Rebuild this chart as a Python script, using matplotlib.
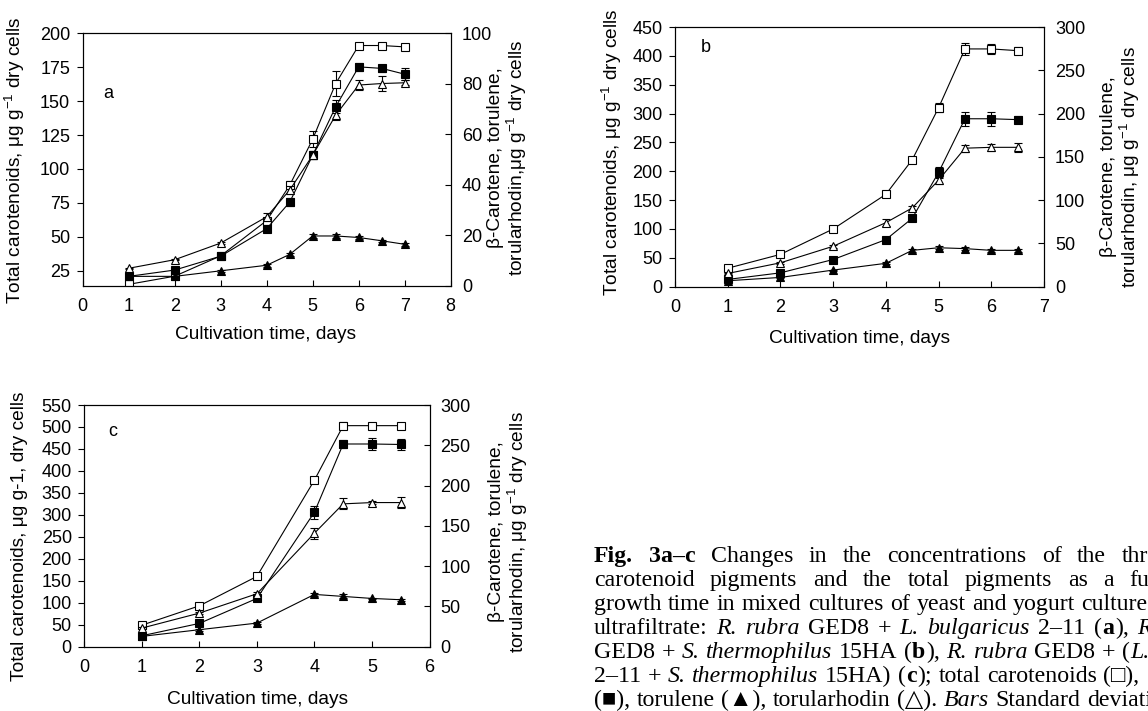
import matplotlib
matplotlib.use("Agg")
import matplotlib.pyplot as plt

plt.rcParams['font.family'] = ['Liberation Sans', 'DejaVu Sans']
plt.rcParams['mathtext.fontset'] = 'custom'
plt.rcParams['mathtext.rm'] = 'Liberation Sans'
plt.rcParams['mathtext.it'] = 'Liberation Sans:italic'
plt.rcParams['font.size'] = 13

W, H = 1148, 711
LAB = 13.8   # axis label size
TCK = 13     # tick label size

# ---- data (total carotenoids on left axis, pigments on right axis) ----
days_a = [1, 2, 3, 4, 4.5, 5, 5.5, 6, 6.5, 7]
total_a = [15, 21, 36, 62, 88, 122, 163, 191, 191, 190]
total_a_err = [0, 0, 0, 1, 3, 6, 9, 1, 1, 1]
beta_a = [3.7, 6.2, 11.7, 22.6, 33.1, 51.7, 70.9, 86.7, 86.1, 83.8]
beta_a_err = [0.5, 0.5, 0.5, 0.8, 1.5, 1.5, 2.5, 1.5, 1.5, 2.5]
torulene_a = [3.7, 3.7, 5.9, 8.1, 12.4, 19.7, 19.7, 19.1, 17.8, 16.4]
torulene_a_err = [0.3, 0.3, 0.3, 0.5, 0.5, 0.8, 0.8, 0.5, 0.5, 0.5]
torularhodin_a = [6.9, 10.3, 16.9, 27.3, 37.9, 51.7, 67.6, 79.5, 80.1, 80.4]
torularhodin_a_err = [0.3, 0.3, 0.5, 1.5, 1.5, 1.5, 2, 2, 3, 1]

days_b = [1, 2, 3, 4, 4.5, 5, 5.5, 6, 6.5]
total_b = [32, 56, 100, 160, 220, 310, 412, 412, 409]
total_b_err = [2, 2, 2, 2, 4, 8, 10, 8, 6]
beta_b = [8.4, 16, 31.4, 54.4, 79, 132, 194, 194, 193]
beta_b_err = [1, 1, 1, 1.5, 3, 6, 8, 8, 4]
torulene_b = [6.9, 10.7, 19.2, 27, 42, 45, 44, 42, 42]
torulene_b_err = [0.5, 0.5, 0.5, 1, 1.5, 2, 1.5, 1.5, 1.5]
torularhodin_b = [15.3, 27.6, 46.7, 74, 91, 123, 160, 161, 161]
torularhodin_b_err = [1, 1, 1.5, 4, 2, 4, 4, 4, 5]

days_c = [1, 2, 3, 4, 4.5, 5, 5.5]
total_c = [49, 93, 160, 379, 503, 503, 503]
total_c_err = [2, 2, 3, 5, 8, 4, 4]
beta_c = [13.6, 28.9, 59.9, 167, 251.6, 251.6, 251]
beta_c_err = [1, 1, 2, 8, 5, 7, 7]
torulene_c = [12.8, 21.1, 29.3, 64.9, 62.4, 59.9, 58.3]
torulene_c_err = [0.5, 1, 1.5, 1.5, 2.5, 1, 1]
torularhodin_c = [23.1, 41.7, 65.7, 140.9, 177.3, 178.9, 178.9]
torularhodin_c_err = [1, 1, 2, 7, 7, 1.5, 7]


def px_axes(left, top, right, bottom):
    return fig.add_axes([left / W, 1 - bottom / H, (right - left) / W, (bottom - top) / H])


def fig_text(x, y, s, **kw):
    return fig.text(x / W, 1 - y / H, s, **kw)


def series(ax, x, y, err, marker, filled):
    ax.errorbar(x, y, yerr=err, fmt='-' + marker, color='k', lw=0.8,
                mfc='k' if filled else 'white', mec='k', ms=5.5, mew=0.8,
                elinewidth=0.8, capsize=3, capthick=0.8)


def panel(box, days, total, total_err, beta, beta_err, tor, tor_err, torh, torh_err,
          xmax, ylim, yticks, rlim, rticks, letter, letter_xy):
    ax = px_axes(*box)
    ax2 = ax.twinx()
    series(ax, days, total, total_err, 's', False)
    series(ax2, days, beta, beta_err, 's', True)
    series(ax2, days, tor, tor_err, '^', True)
    series(ax2, days, torh, torh_err, '^', False)
    ax.set_xlim(0, xmax)
    ax.set_xticks(range(0, xmax + 1))
    ax.set_ylim(*ylim)
    ax.set_yticks(yticks)
    ax2.set_ylim(*rlim)
    ax2.set_yticks(rticks)
    ax.tick_params(axis='x', direction='in', length=4, pad=9, labelsize=TCK)
    ax.tick_params(axis='y', direction='out', length=4, pad=5, labelsize=TCK)
    ax2.tick_params(axis='y', direction='in', length=4, pad=8, labelsize=TCK)
    for a in (ax, ax2):
        for sp in a.spines.values():
            sp.set_linewidth(0.8)
    ax.text(letter_xy[0], letter_xy[1], letter, transform=ax.transAxes, fontsize=TCK,
            ha='left', va='center')
    return ax, ax2


fig = plt.figure(figsize=(W / 100, H / 100), dpi=100)

# panel a
panel((82.7, 33.3, 450.7, 285.7), days_a, total_a, total_a_err, beta_a, beta_a_err,
      torulene_a, torulene_a_err, torularhodin_a, torularhodin_a_err,
      8, (14, 200), range(25, 201, 25), (0, 100), range(0, 101, 20), 'a', (0.055, 0.76))
fig_text(15, 160, 'Total carotenoids, μg g$^{-1}$ dry cells', rotation=90,
         ha='center', va='center', fontsize=LAB)
fig_text(508, 158, 'β-Carotene, torulene,\ntorularhodin,μg g$^{-1}$ dry cells', rotation=90,
         ha='center', va='center', fontsize=LAB, multialignment='center', linespacing=1.0)
fig_text(266, 335, 'Cultivation time, days', ha='center', va='center', fontsize=LAB)

# panel b
panel((675, 27, 1044, 286.7), days_b, total_b, total_b_err, beta_b, beta_b_err,
      torulene_b, torulene_b_err, torularhodin_b, torularhodin_b_err,
      7, (0, 450), range(0, 451, 50), (0, 300), range(0, 301, 50), 'b', (0.07, 0.92))
fig_text(612, 152, 'Total carotenoids, μg g$^{-1}$ dry cells', rotation=90,
         ha='center', va='center', fontsize=LAB)
fig_text(1121, 167, 'β-Carotene, torulene,\ntorularhodin, μg g$^{-1}$ dry cells', rotation=90,
         ha='center', va='center', fontsize=LAB, multialignment='center', linespacing=1.0)
fig_text(860, 339, 'Cultivation time, days', ha='center', va='center', fontsize=LAB)

# panel c
panel((84.3, 405, 429.5, 646.7), days_c, total_c, total_c_err, beta_c, beta_c_err,
      torulene_c, torulene_c_err, torularhodin_c, torularhodin_c_err,
      6, (0, 550), range(0, 551, 50), (0, 300), range(0, 301, 50), 'c', (0.07, 0.89))
fig_text(20, 536, 'Total carotenoids, μg g-1, dry cells', rotation=90,
         ha='center', va='center', fontsize=LAB)
fig_text(509, 532, 'β-Carotene, torulene,\ntorularhodin, μg g$^{-1}$ dry cells', rotation=90,
         ha='center', va='center', fontsize=LAB, multialignment='center', linespacing=1.0)
fig_text(258, 700, 'Cultivation time, days', ha='center', va='center', fontsize=LAB)

# ---- caption, justified-ish, cut at the right edge like the page ----
R, I, B = 'normal', 'italic', 'bold'
caption = [
    [[("Fig.", B)], [("3a–c", B)], [("Changes", R)], [("in", R)], [("the", R)],
     [("concentrations", R)], [("of", R)], [("the", R)], [("three", R)]],
    [[("carotenoid", R)], [("pigments", R)], [("and", R)], [("the", R)], [("total", R)],
     [("pigments", R)], [("as", R)], [("a", R)], [("function", R)], [("of", R)]],
    [[("growth", R)], [("time", R)], [("in", R)], [("mixed", R)], [("cultures", R)],
     [("of", R)], [("yeast", R)], [("and", R)], [("yogurt", R)], [("cultures", R)], [("in", R)]],
    [[("ultrafiltrate:", R)], [("R.", I)], [("rubra", I)], [("GED8", R)], [("+", R)],
     [("L.", I)], [("bulgaricus", I)], [("2–11", R)], [("(", R), ("a", B), ("),", R)],
     [("R.", I)], [("rubra", I)]],
    [[("GED8", R)], [("+", R)], [("S.", I)], [("thermophilus", I)], [("15HA", R)],
     [("(", R), ("b", B), ("),", R)], [("R.", I)], [("rubra", I)], [("GED8", R)], [("+", R)],
     [("(", R), ("L.", I)], [("bulgaricus", I)]],
    [[("2–11", R)], [("+", R)], [("S.", I)], [("thermophilus", I)], [("15HA)", R)],
     [("(", R), ("c", B), (");", R)], [("total", R)], [("carotenoids", R)], [("(□),", R)],
     [("β-carotene", R)]],
    [[("(■),", R)], [("torulene", R)], [("(▲),", R)], [("torularhodin", R)], [("(△).", R)],
     [("Bars", I)], [("Standard", R)], [("deviation", R)]],
]
gaps = [15, 15, 6, 8, 6, 6, 6]
baselines = [562, 586, 610, 634, 658, 682, 706]
cap_x0 = 594

renderer = fig.canvas.get_renderer()
for words, gap, yb in zip(caption, gaps, baselines):
    x = cap_x0
    for word in words:
        for txt, style in word:
            t = fig_text(x, yb, txt, fontsize=17.2, va='baseline', ha='left',
                         family=['Liberation Serif', 'DejaVu Serif'],
                         fontstyle='italic' if style == I else 'normal',
                         fontweight='bold' if style == B else 'normal')
            x += t.get_window_extent(renderer).width + 0.5
        x += gap

fig.savefig('out.png', dpi=100)
